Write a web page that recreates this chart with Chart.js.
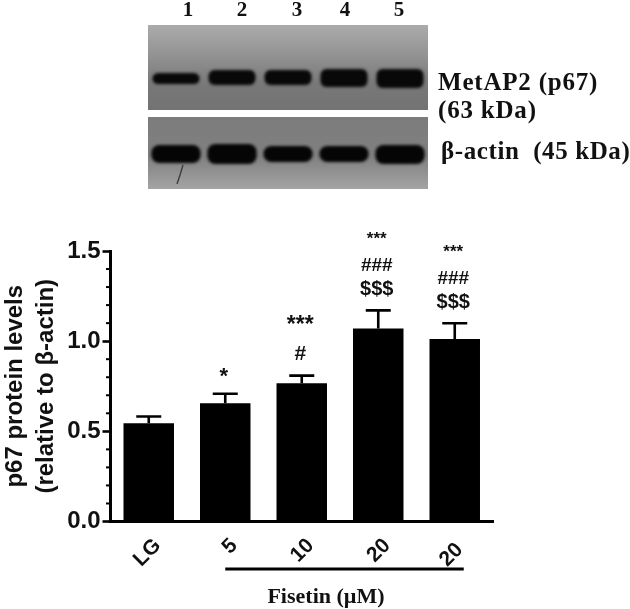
<!DOCTYPE html>
<html>
<head>
<meta charset="utf-8">
<style>
html, body { margin: 0; padding: 0; background: #fff; }
#page { position: relative; width: 630px; height: 609px; overflow: hidden; }
#gelWrap { position: absolute; left: 0; top: 0; width: 630px; height: 200px; }
#barWrap { position: absolute; left: 0; top: 200px; width: 630px; height: 409px; }
canvas { filter: blur(0.4px); }
</style>
</head>
<body>
<div id="page">
  <div id="gelWrap"><canvas id="gelChart"></canvas></div>
  <div id="barWrap"><canvas id="barChart"></canvas></div>
</div>
<script src="https://cdn.jsdelivr.net/npm/chart.js@4/dist/chart.umd.min.js"></script>
<script>
// bar chart values
const categories = ['LG', '5', '10', '20', '20 '];
const proteinLevels = [0.545, 0.656, 0.767, 1.07, 1.012];
const errorTops = [0.582, 0.708, 0.809, 1.171, 1.099];
const yTickLabels = ['0.0', '0.5', '1.0', '1.5'];
const sigMarks = [[], ['*'], ['***', '#'], ['***', '###', '$$$'], ['***', '###', '$$$']];

// blot: lanes and band extents on a 0-164 gel axis, top of gel is 0
const lanes = ['1', '2', '3', '4', '5'];
const p67Bands = [[48, 59], [45, 60], [45, 60], [44, 62], [44, 63]];
const actinBands = [[120, 138], [119, 139], [121, 137], [121, 137], [120, 139]];
const blotLabels = ['MetAP2 (p67)', '(63 kDa)', 'β-actin  (45 kDa)'];

const serifBold = 'bold 25px "Liberation Serif", "Times New Roman", serif';
const laneFont = 'bold 21px "Liberation Serif", "Times New Roman", serif';

function text(ctx, str, x, y, font, align, spacing) {
    ctx.save();
    ctx.font = font;
    ctx.fillStyle = '#111';
    ctx.textAlign = align || 'center';
    ctx.textBaseline = 'middle';
    if (spacing) ctx.letterSpacing = spacing;
    ctx.fillText(str, x, y);
    ctx.restore();
}

// grey gel panels behind the bands, lane numbers and blot labels
const gelBackdrop = {
    id: 'gelBackdrop',
    beforeDatasetsDraw(chart) {
        const { ctx, chartArea: a, scales: { y } } = chart;
        const panels = [
            [0, 85, [[0, '#ababab'], [0.35, '#939393'], [0.7, '#787878'], [1, '#737373']]],
            [92, 164, [[0, '#7c7c7c'], [0.55, '#808080'], [1, '#a4a4a4']]]
        ];
        panels.forEach(([from, to, stops]) => {
            const top = y.getPixelForValue(from);
            const bottom = y.getPixelForValue(to);
            const g = ctx.createLinearGradient(0, top, 0, bottom);
            stops.forEach(s => g.addColorStop(s[0], s[1]));
            ctx.fillStyle = g;
            ctx.fillRect(a.left, top, a.right - a.left, bottom - top);
        });
        // scratch below lane 1
        ctx.save();
        ctx.strokeStyle = '#3c3c3c';
        ctx.lineWidth = 1.4;
        ctx.beginPath();
        ctx.moveTo(183, 165);
        ctx.lineTo(180, 175);
        ctx.lineTo(177, 184);
        ctx.stroke();
        ctx.restore();
    },
    beforeDatasetDraw(chart) {
        chart.ctx.save();
        chart.ctx.filter = 'blur(1.6px)';
    },
    afterDatasetDraw(chart) {
        chart.ctx.restore();
    },
    afterDraw(chart) {
        const ctx = chart.ctx;
        const laneX = [188, 242, 297, 345, 399];
        lanes.forEach((l, i) => text(ctx, l, laneX[i], 11, laneFont));
        text(ctx, blotLabels[0], 438, 84, serifBold, 'left', '0.8px');
        text(ctx, blotLabels[1], 438, 112, serifBold, 'left', '0.8px');
        text(ctx, blotLabels[2], 441, 153, serifBold, 'left', '0.6px');
    }
};

new Chart(document.getElementById('gelChart').getContext('2d'), {
    type: 'bar',
    data: {
        labels: lanes,
        datasets: [
            { data: p67Bands, barPercentage: 0.84, categoryPercentage: 1, grouped: false,
              backgroundColor: '#080808', borderRadius: 6, borderSkipped: false },
            { data: actinBands, barPercentage: 0.88, categoryPercentage: 1, grouped: false,
              backgroundColor: '#050505', borderRadius: 8, borderSkipped: false }
        ]
    },
    options: {
        responsive: true,
        maintainAspectRatio: false,
        animation: false,
        layout: { padding: { left: 148, right: 202, top: 25, bottom: 11 } },
        plugins: { legend: { display: false }, tooltip: { enabled: false } },
        scales: {
            x: { display: false },
            y: { display: false, reverse: true, min: 0, max: 164 }
        }
    },
    plugins: [gelBackdrop]
});

// error bars, minor ticks, significance marks and the fisetin bracket
const barExtras = {
    id: 'barExtras',
    afterDatasetsDraw(chart) {
        const { ctx, scales: { x, y } } = chart;
        ctx.save();
        ctx.strokeStyle = '#000';
        ctx.lineWidth = 2.6;
        errorTops.forEach((v, i) => {
            const px = x.getPixelForValue(i);
            const top = y.getPixelForValue(v);
            ctx.beginPath();
            ctx.moveTo(px, y.getPixelForValue(proteinLevels[i]));
            ctx.lineTo(px, top);
            ctx.moveTo(px - 12.5, top);
            ctx.lineTo(px + 12.5, top);
            ctx.stroke();
        });
        // minor ticks every 0.1
        ctx.lineWidth = 2;
        for (let k = 1; k < 15; k++) {
            if (k % 5 === 0) continue;
            const py = y.getPixelForValue(k / 10);
            ctx.beginPath();
            ctx.moveTo(y.right - 4.5, py);
            ctx.lineTo(y.right, py);
            ctx.stroke();
        }
        ctx.restore();

        const fonts = { '*': 'bold 22px', '***': 'bold 17px', '#': 'bold 21px', '###': 'bold 19px', '$$$': 'bold 20px' };
        const gaps = [[], [17], [49.5, 21], [71.5, 44.5, 21], [71, 44.5, 21]];
        sigMarks.forEach((marks, i) => {
            marks.forEach((m, j) => {
                let size = fonts[m];
                if (m === '***' && i === 2) size = 'bold 23px';
                text(ctx, m, x.getPixelForValue(i) - 1.5, y.getPixelForValue(errorTops[i]) - gaps[i][j],
                    size + ' "Liberation Sans", Arial, sans-serif');
            });
        });

        // bracket runs from the "5" bar to just past the last bar
        ctx.save();
        ctx.strokeStyle = '#000';
        ctx.lineWidth = 3;
        ctx.beginPath();
        ctx.moveTo(x.getPixelForValue(1), 369);
        ctx.lineTo(x.getPixelForValue(4) + 9, 369);
        ctx.stroke();
        ctx.restore();
        text(ctx, 'Fisetin (µM)', 326, 397, 'bold 22px "Liberation Serif", "Times New Roman", serif');
    }
};

new Chart(document.getElementById('barChart').getContext('2d'), {
    type: 'bar',
    data: {
        labels: categories,
        datasets: [{
            data: proteinLevels,
            backgroundColor: '#000',
            barPercentage: 0.66,
            categoryPercentage: 1
        }]
    },
    options: {
        responsive: true,
        maintainAspectRatio: false,
        animation: false,
        layout: { padding: { top: 51, right: 137, left: 0, bottom: 0 } },
        plugins: { legend: { display: false }, tooltip: { enabled: false } },
        scales: {
            x: {
                grid: { display: false, drawOnChartArea: false, tickLength: 8, tickColor: '#000', tickWidth: 2.6 },
                border: { color: '#000', width: 3 },
                ticks: { color: '#111', font: { family: '"Liberation Sans", Arial, sans-serif', weight: 'bold', size: 21 }, minRotation: 45, maxRotation: 45, padding: 4, labelOffset: 9 },
                afterFit(scale) { scale.height = 87.5; }
            },
            y: {
                min: 0,
                max: 1.5,
                afterFit(scale) { scale.width = 110.5; },
                afterBuildTicks(scale) {
                    scale.ticks = yTickLabels.map(l => ({ value: parseFloat(l), label: l }));
                },
                grid: { drawOnChartArea: false, tickLength: 8, tickColor: '#000', tickWidth: 2.6 },
                border: { color: '#000', width: 3 },
                ticks: { color: '#111', font: { family: '"Liberation Sans", Arial, sans-serif', weight: 'bold', size: 24 }, padding: 2,
                    callback: v => v.toFixed(1) },
                title: {
                    display: true,
                    text: ['p67 protein levels', '(relative to β-actin)'],
                    color: '#111',
                    font: { family: '"Liberation Sans", Arial, sans-serif', weight: 'bold', size: 24, lineHeight: 1.3 },
                    padding: 0
                }
            }
        }
    },
    plugins: [barExtras]
});
</script>
</body>
</html>
